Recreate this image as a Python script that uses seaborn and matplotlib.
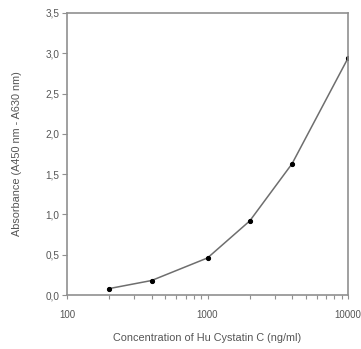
import matplotlib
matplotlib.use("Agg")
import matplotlib.pyplot as plt
import matplotlib.ticker as mticker
import pandas as pd
import seaborn as sns

concentration = [200, 400, 1000, 2000, 4000, 10000]
absorbance = [0.08, 0.18, 0.46, 0.92, 1.63, 2.94]
y_ticks = [0.0, 0.5, 1.0, 1.5, 2.0, 2.5, 3.0, 3.5]
x_ticks = [100, 1000, 10000]

df = pd.DataFrame({"conc": concentration, "abs": absorbance})

sns.set_style("white")
plt.rcParams["font.family"] = ["Liberation Sans", "DejaVu Sans"]

fig = plt.figure(figsize=(3.61, 3.49), dpi=100)
ax = fig.add_axes([0.1856, 0.1547, 0.964 - 0.1856, 0.9628 - 0.1547])

sns.lineplot(data=df, x="conc", y="abs", ax=ax, color="#6e6e6e", linewidth=1.1,
             marker="o", markersize=3, markerfacecolor="black",
             markeredgecolor="black")

ax.set_xscale("log")
ax.set_xlim(100, 10000)
ax.set_ylim(0, 3.5)
ax.set_xticks(x_ticks)
ax.set_xticklabels([str(v) for v in x_ticks])
ax.xaxis.set_minor_locator(mticker.LogLocator(base=10, subs=range(2, 10)))
ax.xaxis.set_minor_formatter(mticker.NullFormatter())
ax.set_yticks(y_ticks)
ax.set_yticklabels([f"{v:.1f}".replace(".", ",") for v in y_ticks])

for s in ax.spines.values():
    s.set_color("#909090")
    s.set_linewidth(1.2)

ax.tick_params(axis="y", which="major", direction="out", length=3.5, width=0.8,
               color="#909090", labelsize=7.2, labelcolor="#555555", pad=2, left=True)
ax.tick_params(axis="x", which="both", direction="out", length=3, width=0.8,
               color="#909090", bottom=True)
ax.tick_params(axis="x", which="major", labelsize=7, labelcolor="#555555", pad=8)

ax.set_xlabel("Concentration of Hu Cystatin C (ng/ml)", fontsize=7.8, color="#555555", labelpad=9)
ax.set_ylabel("Absorbance (A450 nm - A630 nm)", fontsize=7.8, color="#555555", labelpad=17)

fig.savefig("out.png", dpi=100)
plt.close(fig)
